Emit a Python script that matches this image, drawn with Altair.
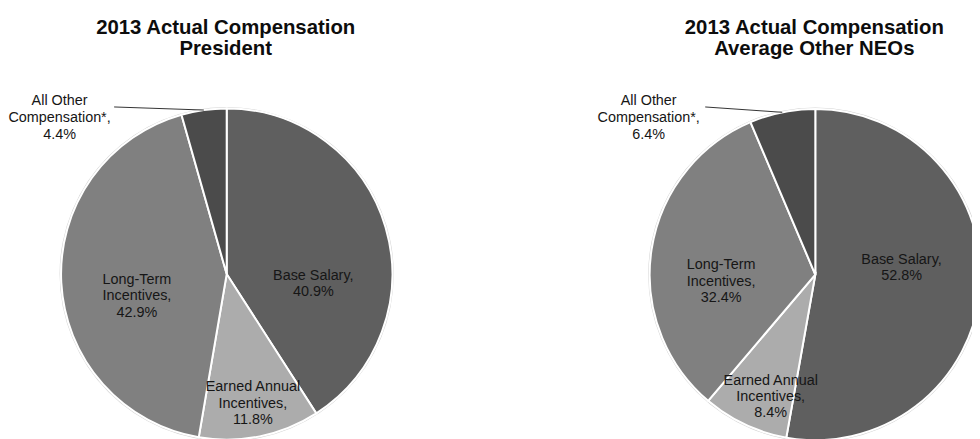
import altair as alt
import pandas as pd

# ---- data ----
categories = ["Base Salary", "Earned Annual Incentives", "Long-Term Incentives", "All Other Compensation*"]
label_lines = ["Base Salary,", "Earned Annual\nIncentives,", "Long-Term\nIncentives,", "All Other\nCompensation*,"]
president_values = [40.9, 11.8, 42.9, 4.4]
neo_values = [52.8, 8.4, 32.4, 6.4]
titles = ["2013 Actual Compensation\nPresident", "2013 Actual Compensation\nAverage Other NEOs"]

# ---- styles / layout ----
colors = ["#5f5f5f", "#acacac", "#808080", "#4b4b4b"]
W, H = 972, 431
R = 167
FONT = "Liberation Sans"


def make_df(values):
    return pd.DataFrame({
        "idx": list(range(len(categories))),
        "category": categories,
        "label": label_lines,
        "value": values,
    })


def pie(values, cx, cy, title, title_x, inside, outside):
    df = make_df(values)
    base = alt.Chart(df)
    theta_scale = alt.Scale(domain=[0, 100])
    arcs = base.mark_arc(radius=R, stroke="white", strokeWidth=2).encode(
        theta=alt.Theta("value:Q", stack=True, scale=theta_scale),
        order=alt.Order("idx:Q"),
        color=alt.Color("category:N", scale=alt.Scale(domain=categories, range=colors), legend=None),
        x=alt.value(cx),
        y=alt.value(cy),
    )
    ring = base.transform_aggregate(total="sum(value)").mark_arc(
        radius=R + 1.5, radius2=R + 0.5, fill="#d4d4d4"
    ).encode(
        theta=alt.Theta("total:Q", scale=theta_scale, stack=True),
        x=alt.value(cx),
        y=alt.value(cy),
    )
    stacked = base.transform_window(
        cum="sum(value)", sort=[alt.SortField("idx")]
    ).transform_calculate(
        mid="datum.cum - datum.value / 2",
        txt="datum.label + '\\n' + format(datum.value, '.1f') + '%'",
    )
    layers = [ring, arcs]
    for cat, (r, dx, dy) in inside.items():
        layers.append(
            stacked.transform_filter(alt.datum.category == cat).mark_text(
                radius=r, dx=dx, dy=dy, font=FONT, fontSize=14.5, lineHeight=16.5,
                lineBreak="\n", align="center", baseline="middle", color="#161616",
            ).encode(
                theta=alt.Theta("mid:Q", scale=theta_scale, stack=None),
                text="txt:N",
                x=alt.value(cx),
                y=alt.value(cy),
            )
        )
    # outside label with leader line
    ocat, (lx, ly, x0) = outside
    layers.append(
        stacked.transform_filter(alt.datum.category == ocat).mark_text(
            font=FONT, fontSize=14.5, lineHeight=17, lineBreak="\n",
            align="center", baseline="middle", color="#161616",
        ).encode(text="txt:N", x=alt.value(lx), y=alt.value(ly))
    )
    layers.append(
        stacked.transform_filter(alt.datum.category == ocat).transform_calculate(
            ang="2 * PI * datum.mid / 100",
        ).transform_calculate(
            ex=f"{cx} + {R} * sin(datum.ang)",
            ey=f"{cy} - {R} * cos(datum.ang)",
        ).mark_rule(color="#333333", strokeWidth=1).encode(
            x=alt.X("ex:Q", scale=None),
            y=alt.Y("ey:Q", scale=None),
            x2=alt.value(x0),
            y2=alt.value(ly + 6),
        )
    )
    layers.append(
        alt.Chart(pd.DataFrame({"t": [title]})).mark_text(
            font=FONT, fontSize=20.5, fontWeight="bold", lineHeight=21.5,
            lineBreak="\n", align="center", baseline="alphabetic", color="#0d0d0d",
        ).encode(text="t:N", x=alt.value(title_x), y=alt.value(24))
    )
    return layers


left = pie(
    president_values, 220.5, 266.5, titles[0], 219.5,
    {"Base Salary": (90, 1, 27.4),
     "Long-Term Incentives": (90, -0.6, 1.2),
     "Earned Annual Incentives": (115, 3.5, 1.5)},
    ("All Other Compensation*", (52, 92, 107)),
)
right = pie(
    neo_values, 814, 267, titles[1], 813,
    {"Base Salary": (87, 0.3, -22.6),
     "Long-Term Incentives": (96, -0.1, 5.1),
     "Earned Annual Incentives": (115, 4, 2.9)},
    ("All Other Compensation*", (646, 92, 703)),
)

chart = alt.layer(*left, *right).resolve_scale(theta="independent").properties(
    width=W, height=H, padding=0, autosize=alt.AutoSizeParams(type="none"),
).configure_view(stroke=None)

chart.save("out.html", embed_options={"renderer": "svg", "actions": False})
